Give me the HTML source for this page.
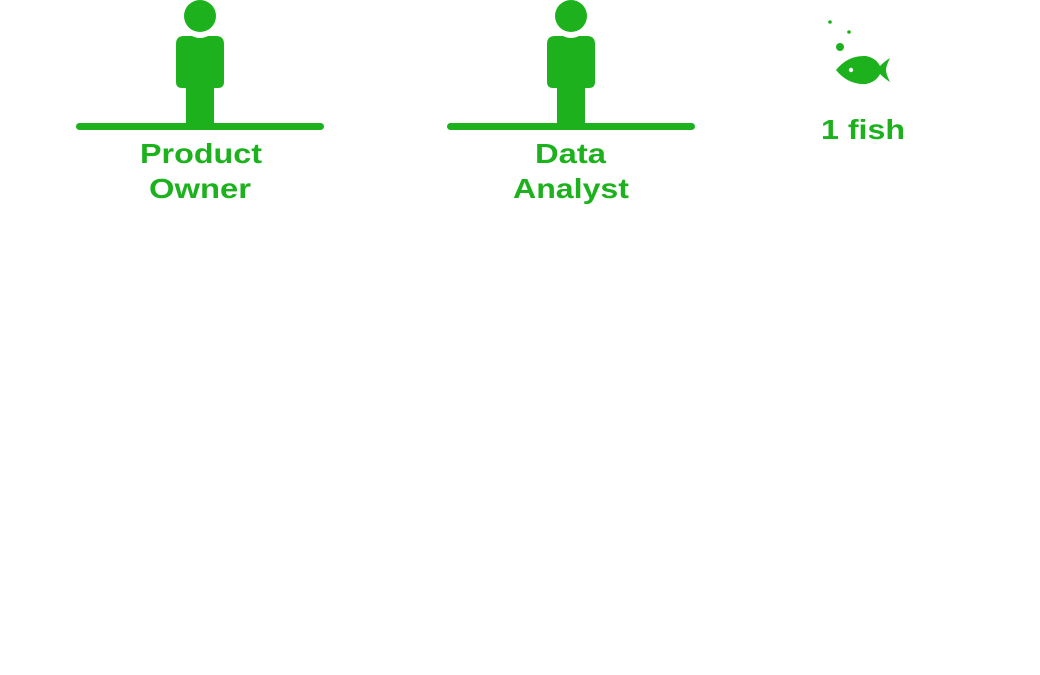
<!DOCTYPE html>
<html><head><meta charset="utf-8"><style>
html,body{margin:0;padding:0;background:#fff;width:1040px;height:675px;overflow:hidden}
text{font-family:"Liberation Sans",sans-serif;font-weight:bold;fill:#1db21d}
</style></head><body>
<svg width="1040" height="675" viewBox="0 0 1040 675" xmlns="http://www.w3.org/2000/svg">
<g fill="#1db21d">
  <g transform="translate(200,0)">
    <circle cx="0" cy="16" r="16"/>
    <path d="M-24 44 Q-24 36 -16 36 L-8 36 Q0 40 8 36 L16 36 Q24 36 24 44 L24 82 Q24 88 18 88 L-18 88 Q-24 88 -24 82 Z"/>
    <rect x="-14" y="84" width="28" height="42"/>
    <rect x="-124" y="123" width="248" height="7" rx="3.5"/>
  </g>
  <g transform="translate(571,0)">
    <circle cx="0" cy="16" r="16"/>
    <path d="M-24 44 Q-24 36 -16 36 L-8 36 Q0 40 8 36 L16 36 Q24 36 24 44 L24 82 Q24 88 18 88 L-18 88 Q-24 88 -24 82 Z"/>
    <rect x="-14" y="84" width="28" height="42"/>
    <rect x="-124" y="123" width="248" height="7" rx="3.5"/>
  </g>
  <circle cx="830" cy="22" r="1.8"/>
  <circle cx="849" cy="32" r="1.8"/>
  <circle cx="840" cy="47" r="4"/>
  <path d="M836 70 Q848 55 866 56 Q876 58 880 66 Q885 61 890 58 Q886 66 886 70 Q886 74 890 82 Q885 79 880 74 Q876 82 866 84 Q848 85 836 70 Z"/>
  <circle cx="851" cy="70" r="2.2" fill="#fff"/>
</g>
<text x="140" y="163" font-size="28" textLength="122" lengthAdjust="spacingAndGlyphs">Product</text>
<text x="149" y="198" font-size="28" textLength="102" lengthAdjust="spacingAndGlyphs">Owner</text>
<text x="535" y="163" font-size="28" textLength="71" lengthAdjust="spacingAndGlyphs">Data</text>
<text x="513" y="198" font-size="28" textLength="116" lengthAdjust="spacingAndGlyphs">Analyst</text>
<text x="821" y="139" font-size="28" textLength="84" lengthAdjust="spacingAndGlyphs">1 fish</text>
</svg>
</body></html>
